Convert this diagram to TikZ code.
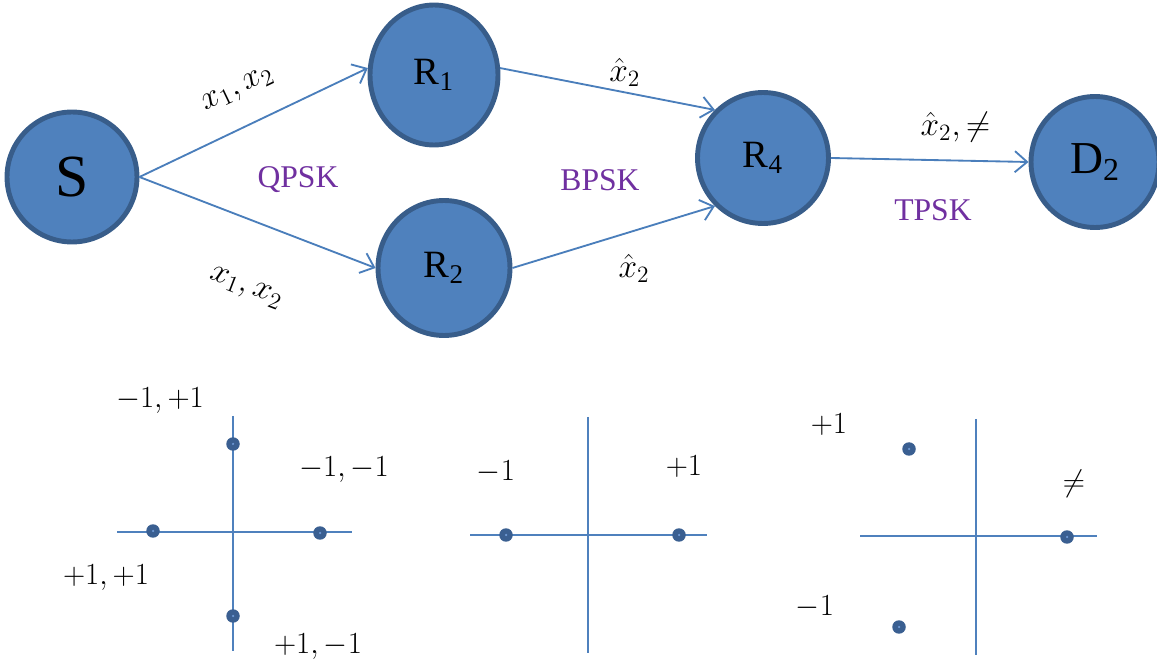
\documentclass[tikz,border=0pt]{standalone}
\usepackage{fix-cm}
\usepackage{fontspec}
\setmainfont{Liberation Serif}
\usetikzlibrary{arrows.meta,shapes.geometric}
\definecolor{nodeblue}{HTML}{4F81BD}
\definecolor{nodeedge}{HTML}{385D8A}
\definecolor{linkblue}{HTML}{4A7EBB}
\definecolor{modpurple}{HTML}{7030A0}
\definecolor{symdark}{HTML}{3A5F91}
\definecolor{symcore}{HTML}{6F9AD6}

\tikzset{
  relay/.style={ellipse, draw=nodeedge, fill=nodeblue, line width=2.8pt,
    inner sep=0pt, font=\fontsize{22}{26}\selectfont},
  link/.style={draw=linkblue, line width=1.05pt,
    -{Straight Barb[length=7pt,width=12pt]}},
  sig/.style={font=\fontsize{19}{22}\selectfont, inner sep=1pt},
  modlabel/.style={text=modpurple, font=\fontsize{18}{21}\selectfont},
  axis/.style={draw=nodeblue, line width=1.1pt},
  sym/.style={circle, fill=symdark, inner sep=0pt, minimum size=0.27cm,
    path picture={\fill[symcore] (path picture bounding box.center) circle (0.025cm);}},
  symlabel/.style={font=\fontsize{17.5}{20}\selectfont, inner sep=0pt}
}

\begin{document}
\begin{tikzpicture}[x=0.02cm, y=-0.02cm]
\useasboundingbox (0,0) rectangle (1157,665);

% network
\node[relay, minimum width=2.6cm, minimum height=2.6cm, font=\fontsize{34}{38}\selectfont] (S) at (72,177) {S};
\node[relay, minimum width=2.56cm, minimum height=2.8cm] (R1) at (434,75) {R\textsubscript{1}};
\node[relay, minimum width=2.64cm, minimum height=2.7cm] (R2) at (444,268) {R\textsubscript{2}};
\node[relay, minimum width=2.62cm, minimum height=2.62cm] (R4) at (763,158) {R\textsubscript{4}};
\node[relay, minimum width=2.56cm, minimum height=2.62cm, font=\fontsize{26}{30}\selectfont] (D2) at (1095,162) {D\textsubscript{2}};

\draw[link] (S.east) -- (R1.174) node[sig, midway, sloped, above=13pt] {$x_1, x_2$};
\draw[link] (S.east) -- (R2.west) node[sig, pos=0.55, sloped, below=30pt] {$x_1, x_2$};
\draw[link] (R1.6) -- (R4.135) node[sig, pos=0.58, above=2pt] {$\hat{x}_2$};
\draw[link] (R2.east) -- (R4.-135) node[sig, pos=0.6, below=12pt] {$\hat{x}_2$};
\draw[link] (R4.east) -- (D2.west) node[sig, pos=0.63, above=9pt] {$\hat{x}_2, \neq$};

\node[modlabel] (qpsk) at (298,180) {QPSK};
\node[modlabel] (bpsk) at (600,180) {BPSK};
\node[modlabel] (tpsk) at (933,210) {TPSK};

% QPSK constellation
\draw[axis] (117,532) -- (352,532);
\draw[axis] (233,416) -- (233,651);
\node[sym] (q1) at (233,444) {};
\node[sym] (q2) at (320,533) {};
\node[sym] (q3) at (153,531) {};
\node[sym] (q4) at (233,616) {};
\node[symlabel] at (160,401) {$-1, +1$};
\node[symlabel] at (344,470) {$-1, -1$};
\node[symlabel] at (106,578) {$+1, +1$};
\node[symlabel] at (318,647) {$+1, -1$};

% BPSK constellation
\draw[axis] (470,535) -- (707,535);
\draw[axis] (588,417) -- (588,653);
\node[sym] (b1) at (506,535) {};
\node[sym] (b2) at (679,535) {};
\node[symlabel] at (496,472) {$-1$};
\node[symlabel] at (684,467) {$+1$};

% TPSK constellation
\draw[axis] (860,536) -- (1097,536);
\draw[axis] (976,419) -- (976,655);
\node[sym] (t1) at (909,449) {};
\node[sym] (t2) at (1067,537) {};
\node[sym] (t3) at (899,627) {};
\node[symlabel] at (829,425) {$+1$};
\node[symlabel] at (1074,484) {$\neq$};
\node[symlabel] at (815,607) {$-1$};
\end{tikzpicture}
\end{document}
